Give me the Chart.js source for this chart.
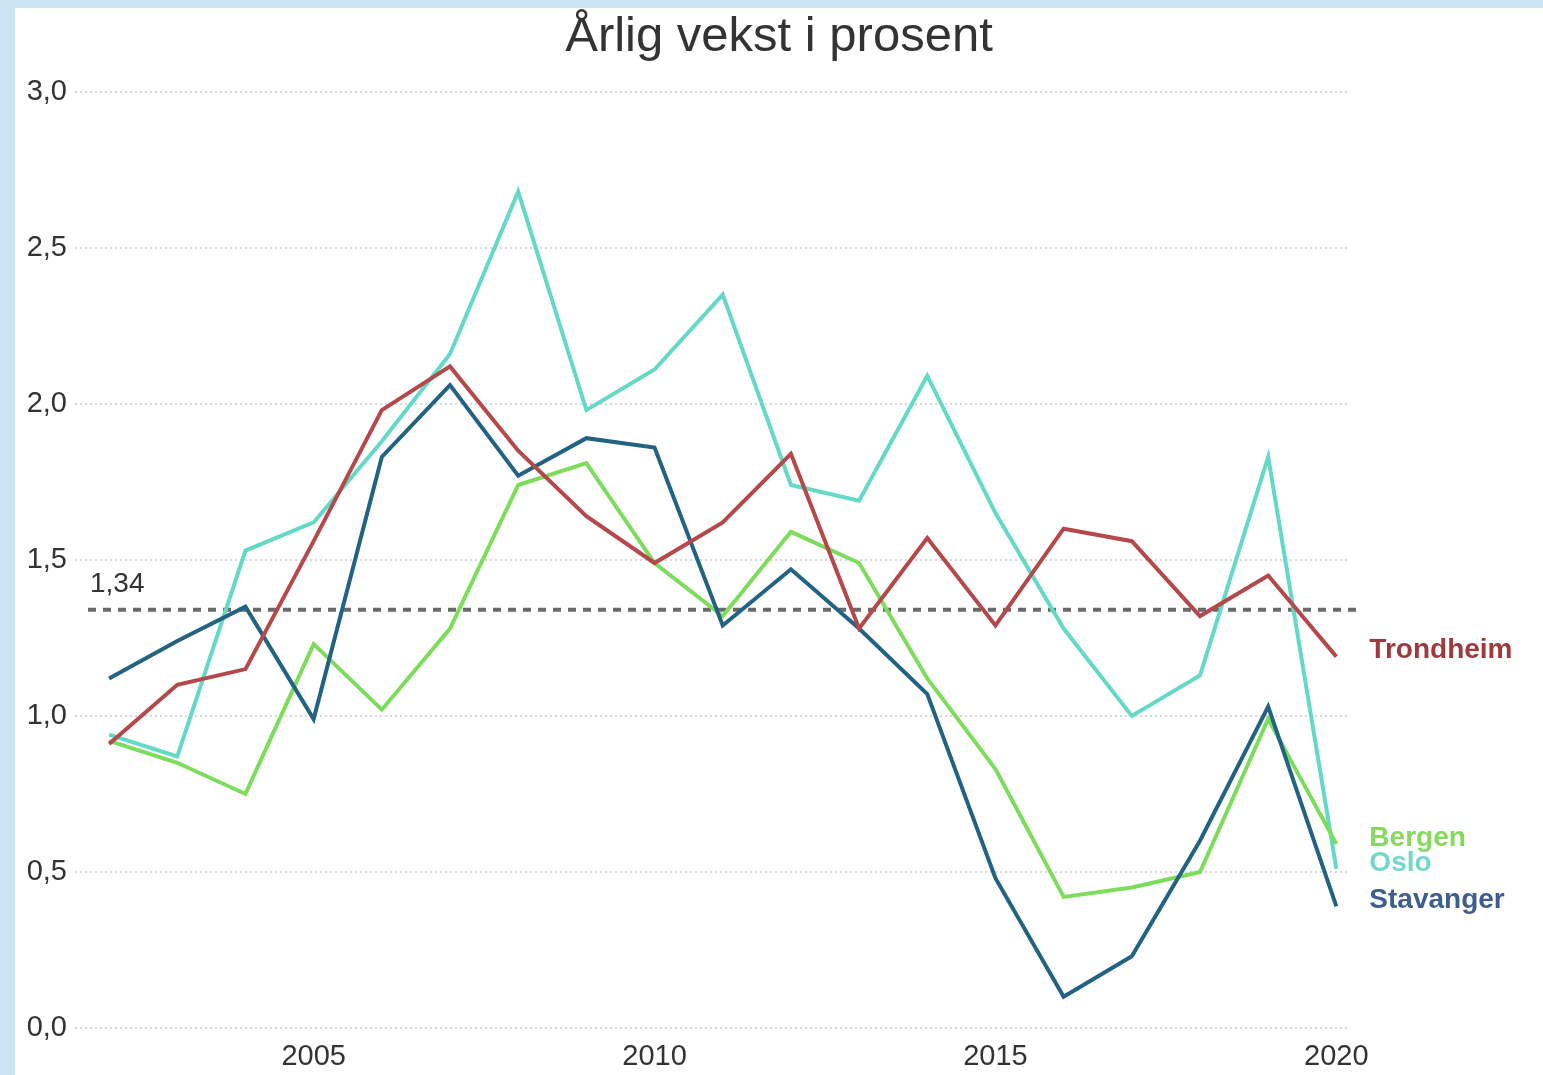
<!DOCTYPE html>
<html>
<head>
<meta charset="utf-8">
<script src="https://cdn.jsdelivr.net/npm/chart.js@4"></script>
<style>
  html, body { margin: 0; padding: 0; }
  body { width: 1543px; height: 1075px; background: #cbe5f2; position: relative; overflow: hidden; }
  #wrap { position: absolute; left: 15px; top: 8px; width: 1528px; height: 1067px; background: #fff; }
</style>
</head>
<body>
<div id="wrap"><canvas id="growthChart"></canvas></div>
<script>
var years = [2002, 2003, 2004, 2005, 2006, 2007, 2008, 2009, 2010, 2011, 2012, 2013, 2014, 2015, 2016, 2017, 2018, 2019, 2020];
var trondheim = [0.91, 1.10, 1.15, 1.56, 1.98, 2.12, 1.85, 1.64, 1.49, 1.62, 1.84, 1.28, 1.57, 1.29, 1.60, 1.56, 1.32, 1.45, 1.19];
var stavanger = [1.12, 1.24, 1.35, 0.99, 1.83, 2.06, 1.77, 1.89, 1.86, 1.29, 1.47, 1.28, 1.07, 0.48, 0.10, 0.23, 0.60, 1.03, 0.39];
var bergen = [0.92, 0.85, 0.75, 1.23, 1.02, 1.28, 1.74, 1.81, 1.49, 1.32, 1.59, 1.49, 1.12, 0.83, 0.42, 0.45, 0.50, 0.99, 0.59];
var oslo = [0.94, 0.87, 1.53, 1.62, 1.88, 2.16, 2.68, 1.98, 2.11, 2.35, 1.74, 1.69, 2.09, 1.65, 1.28, 1.00, 1.13, 1.83, 0.51];
var average = 1.34;
var xTicks = [2005, 2010, 2015, 2020];

var colors = {
    trondheim: '#b5484a',
    stavanger: '#226383',
    bergen: '#7edc5c',
    oslo: '#64d9c6'
};
var labelColors = {
    trondheim: '#9c3b3e',
    stavanger: '#3e5f8e',
    bergen: '#86d85e',
    oslo: '#72d8cb'
};

function points(values) {
    return years.map(function(y, i) { return { x: y, y: values[i] }; });
}
function comma(v, d) {
    return v.toFixed(d).replace('.', ',');
}

var series = [
    { key: 'trondheim', label: 'Trondheim', data: trondheim },
    { key: 'stavanger', label: 'Stavanger', data: stavanger },
    { key: 'bergen', label: 'Bergen', data: bergen },
    { key: 'oslo', label: 'Oslo', data: oslo }
];

// dashed average line, its label and the end-of-line names
var extras = {
    id: 'extras',
    beforeDatasetsDraw: function(chart) {
        var c = chart.ctx, area = chart.chartArea;
        var y = chart.scales.y.getPixelForValue(average);
        c.save();
        c.strokeStyle = '#6a6a6a';
        c.lineWidth = 4;
        c.setLineDash([8, 7]);
        c.beginPath();
        c.moveTo(area.left + 13, y);
        c.lineTo(area.right + 6, y);
        c.stroke();
        c.setLineDash([]);
        c.fillStyle = '#333';
        c.font = '28px "Liberation Sans", Arial, sans-serif';
        c.textBaseline = 'middle';
        c.fillText(comma(average, 2), area.left + 15, y - 26);
        c.restore();
    },
    afterDatasetsDraw: function(chart) {
        var c = chart.ctx;
        c.save();
        c.font = 'bold 28px "Liberation Sans", Arial, sans-serif';
        c.textBaseline = 'middle';
        series.forEach(function(s) {
            var last = s.data.length - 1;
            var px = chart.scales.x.getPixelForValue(years[last]);
            var py = chart.scales.y.getPixelForValue(s.data[last]);
            c.fillStyle = labelColors[s.key];
            c.fillText(s.label, px + 33, py - 6);
        });
        c.restore();
    }
};

var ctx = document.getElementById('growthChart').getContext('2d');
new Chart(ctx, {
    type: 'line',
    data: {
        datasets: series.map(function(s) {
            return {
                label: s.label,
                data: points(s.data),
                borderColor: colors[s.key],
                backgroundColor: colors[s.key],
                borderWidth: 4,
                pointRadius: 0,
                tension: 0
            };
        })
    },
    options: {
        responsive: true,
        maintainAspectRatio: false,
        animation: false,
        layout: {
            padding: 0
        },
        plugins: {
            legend: { display: false },
            tooltip: { enabled: false },
            title: {
                display: true,
                text: 'Årlig vekst i prosent',
                color: '#333',
                font: { size: 49, family: '"Liberation Sans", Arial, sans-serif', weight: 'normal' },
                padding: { top: 0, bottom: 25 }
            }
        },
        scales: {
            x: {
                type: 'linear',
                min: 2001.5,
                max: 2020.2,
                grid: { display: false, drawTicks: false },
                border: { display: false },
                afterBuildTicks: function(scale) {
                    scale.ticks = xTicks.map(function(v) { return { value: v }; });
                },
                ticks: {
                    padding: 12,
                    color: '#333',
                    font: { size: 29, family: '"Liberation Sans", Arial, sans-serif' },
                    maxRotation: 0,
                    callback: function(v) { return String(v); }
                },
                afterFit: function(scale) { scale.height = 47; }
            },
            y: {
                min: 0,
                max: 3,
                grid: {
                    color: '#d6d6d6',
                    lineWidth: 2,
                    drawTicks: false
                },
                border: { display: false, dash: [2, 3] },
                ticks: {
                    stepSize: 0.5,
                    padding: 8,
                    color: '#333',
                    font: { size: 29, family: '"Liberation Sans", Arial, sans-serif' },
                    callback: function(v) { return comma(v, 1); }
                },
                afterFit: function(scale) { scale.width = 60; }
            },
            // empty right-hand margin that holds the line names
            labelMargin: {
                type: 'linear',
                position: 'right',
                grid: { display: false, drawTicks: false },
                border: { display: false },
                ticks: { display: false },
                afterFit: function(scale) { scale.width = 193; }
            }
        }
    },
    plugins: [extras]
});
</script>
</body>
</html>
